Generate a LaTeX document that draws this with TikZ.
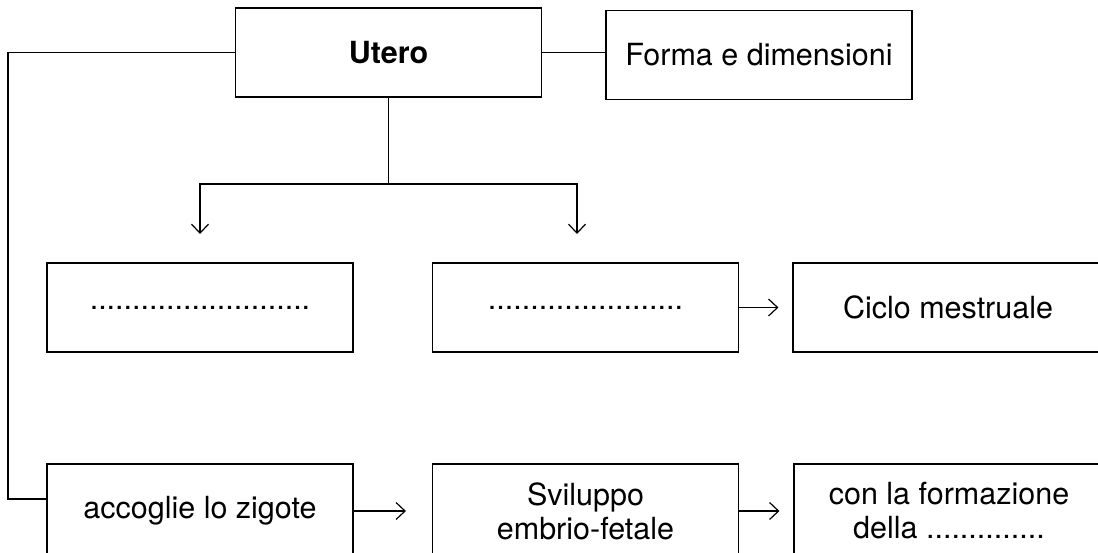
\documentclass[tikz,border=0pt]{standalone}
\usepackage{fontspec}
\setmainfont{TeX Gyre Heros}
\usetikzlibrary{arrows.meta}

\begin{document}
\begin{tikzpicture}[
    x=1pt, y=-1pt,
    >={Straight Barb[length=9pt, width=17pt]}, line width=1.2pt,
    box/.style={draw, rectangle, inner sep=0pt, align=center, minimum width=306pt, minimum height=89pt, font=\fontsize{30.5}{34}\selectfont},
    cutbox/.style={box, minimum height=94pt}
]
\clip (0,0) rectangle (1098,552);

% -------------------------
% Top Row
% -------------------------
\node[box] (utero) at (388.5, 52.5) {\bfseries Utero};
\node[box] (forma) at (759, 55) {Forma e dimensioni};

% -------------------------
% Middle Row
% -------------------------
\node[box] (vuoto1) at (200, 307.5) {..........................};
\node[box] (vuoto2) at (585.5, 307.5) {.......................};
\node[box, minimum width=310pt] (ciclo) at (948, 307.5) {Ciclo mestruale};

% -------------------------
% Bottom Row (cut at page bottom)
% -------------------------
\node[cutbox] (zigote) at (200, 511) {accoglie lo zigote};
\node[cutbox] (sviluppo) at (585.5, 511) {Sviluppo\\embrio-fetale};
\node[cutbox, minimum width=310pt] (formazione) at (949, 511) {con la formazione\\della ..............};

% -------------------------
% Helper Points
% -------------------------
\coordinate (ramo) at (388.5, 184);
\coordinate (freccia1) at (200, 234);
\coordinate (freccia2) at (577, 234);
\coordinate (gomito) at (8, 499);

% -------------------------
% Connectors
% -------------------------
\draw (utero.east) -- (utero.east -| forma.west);
\draw (utero.west) -| (gomito) -- (gomito -| zigote.west);
\draw (utero.south) -- (ramo);
\draw[->] (ramo) -| (freccia1);
\draw[->] (ramo) -| (freccia2);
\draw[->, shorten >=14pt] (vuoto2.east) -- (ciclo.west);
\draw[->, shorten >=26pt] (zigote.east) -- (sviluppo.west);
\draw[->, shorten >=14pt] (sviluppo.east) -- (formazione.west);

\end{tikzpicture}
\end{document}
